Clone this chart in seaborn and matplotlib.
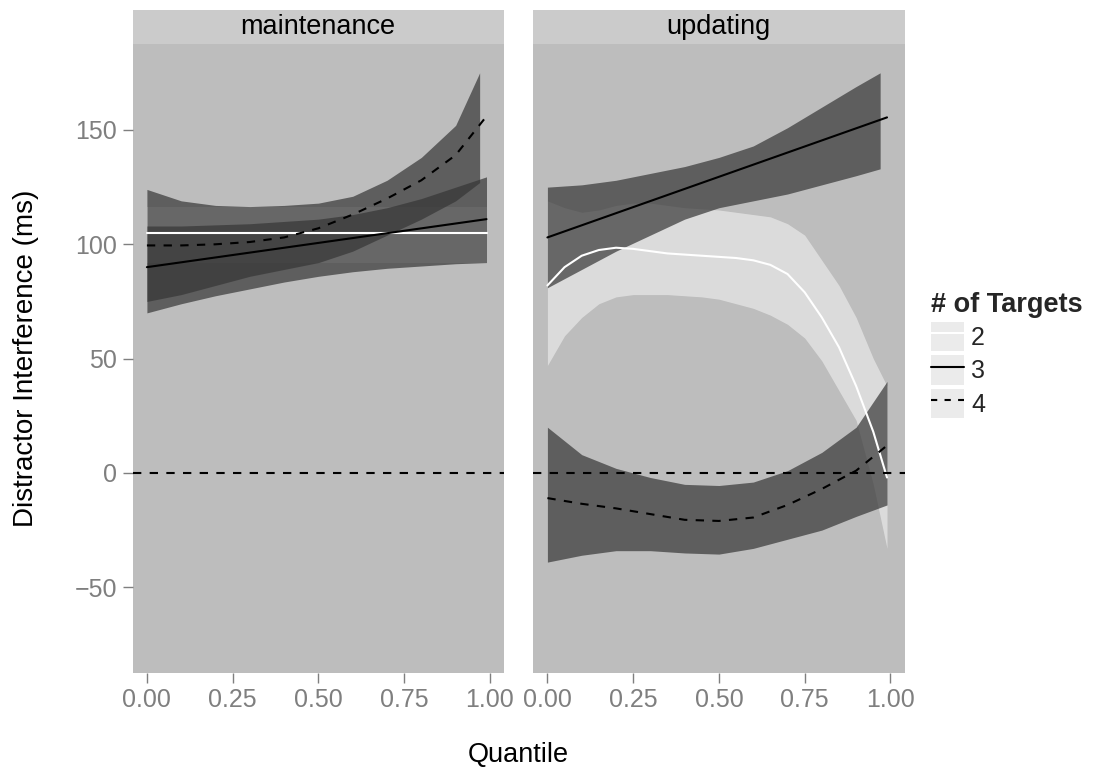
import numpy as np
import pandas as pd
import matplotlib
matplotlib.use("Agg")
import matplotlib.pyplot as plt
import seaborn as sns
from matplotlib.patches import Patch, Rectangle
from matplotlib.lines import Line2D

# ---- data ----
panels = ["maintenance", "updating"]
targets = ["2", "3", "4"]

q_ends = [0.0, 0.99]
q_grid = [0.0, 0.1, 0.2, 0.3, 0.4, 0.5, 0.6, 0.7, 0.8, 0.9, 0.99]
q_short = [0.0, 0.1, 0.2, 0.3, 0.4, 0.5, 0.6, 0.7, 0.8, 0.9, 0.97]
q_fine = [0.0, 0.05, 0.1, 0.15, 0.2, 0.25, 0.3, 0.35, 0.4, 0.45, 0.5,
          0.55, 0.6, 0.65, 0.7, 0.75, 0.8, 0.85, 0.9, 0.95, 0.99]

# maintenance
maint_line2 = [105, 105]
maint_lo2 = [92, 92]
maint_hi2 = [116.5, 116.5]
maint_line3 = [90, 111]
maint_lo3 = [70, 74, 77.5, 80.5, 83.5, 86, 88, 89.5, 90.5, 91.5, 92]
maint_hi3 = [108, 108, 108.5, 109, 110, 111, 113, 116, 120, 125, 129.5]
maint_line4 = [99.5, 99.5, 100, 101, 103, 107, 113, 120, 128, 139, 156]
maint_lo4 = [75, 78, 82, 86, 89, 92, 97, 104, 111, 119, 127]
maint_hi4 = [124, 119, 117, 116.5, 117, 118, 121, 128, 138, 152, 175]

# updating
upd_line2 = [82, 90, 95, 97.5, 98.5, 98, 97, 96, 95.5, 95, 94.5,
             94, 93, 91, 87, 79, 68, 55, 38, 18, -2]
upd_lo2 = [47, 60, 68, 74, 77, 78, 78, 78, 77.5, 77, 76,
           74, 72, 69, 65, 59, 49, 36, 23, -5, -33]
upd_hi2 = [119, 116, 114, 115, 117, 118, 118, 117, 116, 115.5, 115,
           114, 113, 112, 109, 104, 93, 82, 68, 50, 38]
upd_line3 = [103, 155.5]
upd_lo3 = [81, 89, 97, 104, 111, 116, 119, 122, 126, 130, 133]
upd_hi3 = [125, 126, 128, 131, 134, 138, 143, 151, 160, 169, 175]
upd_line4 = [-11, -13.5, -15.5, -18, -20.5, -21, -19.5, -14, -7, 1, 12]
upd_lo4 = [-39, -36, -34, -34, -35, -35.5, -33, -29, -25, -19, -14]
upd_hi4 = [20, 8, 2, -2, -5, -5.5, -4, 1, 9, 20, 40]

xticks = [0.0, 0.25, 0.5, 0.75, 1.0]
yticks = [-50, 0, 50, 100, 150]

# ---- build tables ----
ribbons = {
    "maintenance": [("2", q_ends, maint_lo2, maint_hi2),
                    ("3", q_grid, maint_lo3, maint_hi3),
                    ("4", q_short, maint_lo4, maint_hi4)],
    "updating": [("2", q_fine, upd_lo2, upd_hi2),
                 ("3", q_short, upd_lo3, upd_hi3),
                 ("4", q_grid, upd_lo4, upd_hi4)],
}
line_parts = [
    ("maintenance", "2", q_ends, maint_line2),
    ("maintenance", "3", q_ends, maint_line3),
    ("maintenance", "4", q_grid, maint_line4),
    ("updating", "2", q_fine, upd_line2),
    ("updating", "3", q_ends, upd_line3),
    ("updating", "4", q_grid, upd_line4),
]
lines_df = pd.concat([pd.DataFrame({"task": t, "targets": g, "q": x, "value": y})
                      for t, g, x, y in line_parts], ignore_index=True)

sns.set_theme(style="white")
plt.rcParams["font.family"] = ["Liberation Sans", "DejaVu Sans"]

panel_bg = "#BDBDBD"
strip_bg = "#CBCBCB"
tick_grey = "#7F7F7F"
fill_colors = {"2": "#F0F0F0", "3": "#363636", "4": "#363636"}
fill_alpha = {"2": 0.6, "3": 0.7, "4": 0.7}
line_colors = {"2": "white", "3": "black", "4": "black"}
line_dashes = {"2": "", "3": "", "4": (4, 4)}

fig = plt.figure(figsize=(10.93, 7.70), dpi=100)
W, H = 1093, 770
axes = [fig.add_axes([132.5 / W, 1 - 673 / H, 371.5 / W, 629 / H]),
        fig.add_axes([533 / W, 1 - 673 / H, 371.5 / W, 629 / H])]

for ax, task in zip(axes, panels):
    ax.set_facecolor(panel_bg)
    for g, x, lo, hi in ribbons[task]:
        ax.fill_between(x, lo, hi, color=fill_colors[g], alpha=fill_alpha[g], lw=0)
    sns.lineplot(data=lines_df[lines_df.task == task], x="q", y="value",
                 hue="targets", style="targets", palette=line_colors,
                 dashes=line_dashes, estimator=None, sort=True,
                 legend=False, lw=1.5, ax=ax)
    ax.axhline(0, color="black", lw=1.5, dashes=(4, 4), zorder=5)

    ax.set_xlim(-0.042, 1.041)
    ax.set_ylim(-87.5, 187.6)
    ax.set_xticks(xticks)
    ax.set_xticklabels([f"{v:.2f}" for v in xticks])
    ax.set_yticks(yticks)
    ax.set_xlabel("")
    ax.set_ylabel("")
    for s in ax.spines.values():
        s.set_visible(False)
    ax.tick_params(axis="both", colors=tick_grey, labelsize=18, length=7,
                   width=1, pad=4, bottom=True, left=True)
    ax.grid(False)

    # facet strip
    ax.add_patch(Rectangle((0, 1), 1, 34 / 629, transform=ax.transAxes,
                           facecolor=strip_bg, edgecolor="none", clip_on=False))
    ax.text(0.5, 1 + 17 / 629, task, transform=ax.transAxes, ha="center",
            va="center", fontsize=19.5, color="black")

axes[1].tick_params(axis="y", left=False, labelleft=False)

fig.text(518 / W, 1 - 755 / H, "Quantile", ha="center", va="center",
         fontsize=19.5, color="black")
fig.text(26 / W, 1 - 358 / H, "Distractor Interference (ms)", ha="center",
         va="center", rotation=90, fontsize=20, color="black")

handles = []
for g in targets:
    key = Patch(facecolor="#EBEBEB", edgecolor="none")
    ln = Line2D([], [], color=line_colors[g], lw=1.5)
    if line_dashes[g]:
        ln.set_dashes((3, 3.5))
    handles.append((key, ln))
leg = fig.legend(handles, targets, title="# of Targets", loc="upper left",
                 bbox_to_anchor=(931 / W, 1 - 292 / H), frameon=False,
                 fontsize=18, title_fontproperties={"weight": "bold", "size": 19.5},
                 handlelength=1.3, handleheight=1.45, handletextpad=0.3,
                 labelspacing=0.15, borderpad=0, borderaxespad=0)
leg._legend_box.align = "left"

fig.savefig("out.png", dpi=100, facecolor="white")
